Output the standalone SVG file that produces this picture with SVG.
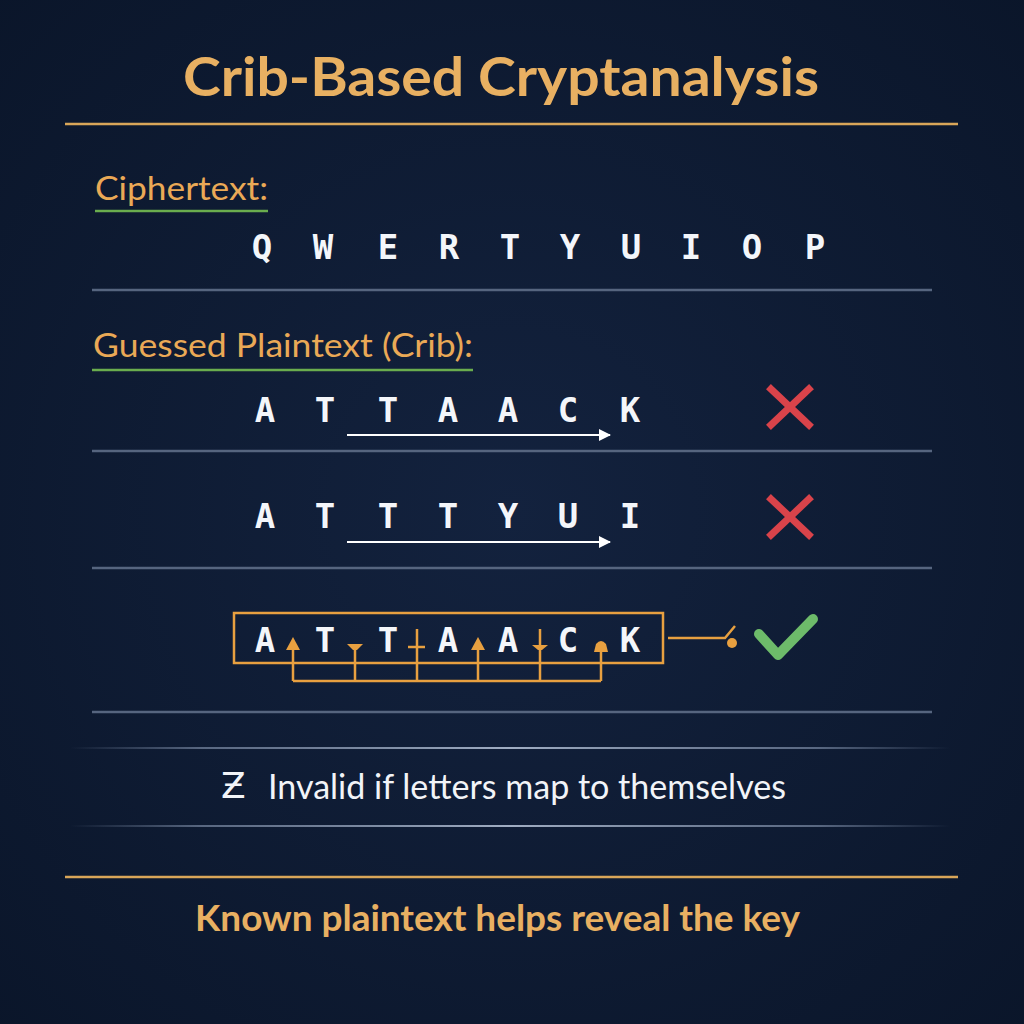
<svg xmlns="http://www.w3.org/2000/svg" width="1024" height="1024" viewBox="0 0 1024 1024">
<defs>
<radialGradient id="bg" cx="50%" cy="50%" r="75%">
<stop offset="0" stop-color="#13223e"/>
<stop offset="1" stop-color="#0a1529"/>
</radialGradient>
<linearGradient id="fade" gradientUnits="userSpaceOnUse" x1="70" y1="0" x2="950" y2="0">
<stop offset="0" stop-color="#8a9ab5" stop-opacity="0"/>
<stop offset="0.15" stop-color="#8a9ab5" stop-opacity="0.6"/>
<stop offset="0.5" stop-color="#b0bdd2" stop-opacity="0.9"/>
<stop offset="0.85" stop-color="#8a9ab5" stop-opacity="0.6"/>
<stop offset="1" stop-color="#8a9ab5" stop-opacity="0"/>
</linearGradient>
<marker id="ah" viewBox="0 0 12 12" refX="11" refY="6" markerWidth="12" markerHeight="12" markerUnits="userSpaceOnUse" orient="auto">
<path d="M0,0 L12,6 L0,12 Z" fill="#ffffff"/>
</marker>
<style>
.title{font-family:Lato,"Open Sans",sans-serif;font-weight:700;fill:#e8b062;}
.label{font-family:Lato,"Open Sans",sans-serif;font-size:33px;fill:#eaa956;}
.mono{font-family:"DejaVu Sans Mono","Liberation Mono",monospace;font-size:34px;font-weight:700;fill:#f4f6fa;text-anchor:middle;}
.note{font-family:Lato,"Open Sans",sans-serif;font-size:35px;fill:#f2f4f8;}
.gold{stroke:#d9a659;stroke-width:2.5;}
.green{stroke:#6aad4e;stroke-width:2.5;}
.div{stroke:#56657f;stroke-width:2.5;}
.fdiv{stroke:url(#fade);stroke-width:2;}
.arrow{stroke:#ffffff;stroke-width:2.2;fill:none;}
.xm{stroke:#d9434a;stroke-width:7;stroke-linecap:square;}
.or{stroke:#e8a040;stroke-width:2.5;fill:none;}
.orf{fill:#e8a040;}
</style>
</defs>
<rect width="1024" height="1024" fill="url(#bg)"/>

<g id="title">
<text class="title" x="501" y="96" font-size="54" text-anchor="middle" textLength="636" lengthAdjust="spacingAndGlyphs">Crib-Based Cryptanalysis</text>
<line class="gold" x1="65" y1="124" x2="958" y2="124"/>
</g>

<g id="ciphertext">
<text class="label" x="95" y="200" textLength="173" lengthAdjust="spacingAndGlyphs">Ciphertext:</text>
<line class="green" x1="95" y1="211" x2="268" y2="211"/>
<text class="mono" x="262 323 388 449 510 570 631 691 752 815" y="259">QWERTYUIOP</text>
<line class="div" x1="92" y1="290" x2="932" y2="290"/>
</g>

<g id="crib-label">
<text class="label" x="93" y="357" textLength="380" lengthAdjust="spacingAndGlyphs">Guessed Plaintext (Crib):</text>
<line class="green" x1="92" y1="370" x2="473" y2="370"/>
</g>

<g id="attempt1">
<text class="mono" x="265 325 388 448 508 568 630" y="422">ATTAACK</text>
<line class="xm" x1="771" y1="389" x2="809" y2="425"/>
<line class="xm" x1="809" y1="389" x2="771" y2="425"/>
<line class="div" x1="92" y1="451" x2="932" y2="451"/>
</g>

<g id="attempt2">
<text class="mono" x="265 325 388 448 508 568 630" y="528">ATTTYUI</text>
<line class="xm" x1="771" y1="499" x2="809" y2="535"/>
<line class="xm" x1="809" y1="499" x2="771" y2="535"/>
<line class="div" x1="92" y1="568" x2="932" y2="568"/>
</g>

<g id="attempt3">
<rect class="or" x="234" y="613" width="429" height="50" stroke-width="3"/>
<text class="mono" x="265 325 388 448 508 568 630" y="652">ATTAACK</text>
<path class="orf" d="M286,650 L293,637 L300,650 Z"/>
<path class="orf" d="M347,644 L363,644 L357,650 L353,650 Z"/>
<line class="or" x1="408" y1="647" x2="425" y2="647"/>
<path class="orf" d="M471,650 L478,637 L485,650 Z"/>
<path class="orf" d="M532,645 L548,645 L542,650 L538,650 Z"/>
<path class="orf" d="M594,652 L596,644 Q601,638 606,644 L608,652 Z"/>
<path class="or" d="M293,650 V681 M355,650 V681 M417,629 V681 M478,650 V681 M540,629 V681 M601,652 V681 M293,681 H601"/>
<path class="or" d="M668,638 H725 L735,626"/>
<circle class="orf" cx="732" cy="643" r="5"/>
<path d="M759,634 L778,655 L813,619" fill="none" stroke="#6dbb6a" stroke-width="10" stroke-linecap="round" stroke-linejoin="round"/>
<line class="div" x1="92" y1="712" x2="932" y2="712"/>
</g>

<g id="connectors">
<line class="arrow" x1="347" y1="435" x2="610" y2="435" marker-end="url(#ah)"/>
<line class="arrow" x1="347" y1="542" x2="610" y2="542" marker-end="url(#ah)"/>
</g>

<g id="note">
<line class="fdiv" x1="70" y1="748" x2="950" y2="748"/>
<text x="221" y="798" font-size="36" fill="#f2f4f8" font-family="'DejaVu Sans',sans-serif">Ƶ</text>
<text class="note" x="268" y="799" textLength="518" lengthAdjust="spacingAndGlyphs">Invalid if letters map to themselves</text>
<line class="fdiv" x1="70" y1="826" x2="950" y2="826"/>
</g>

<g id="footer">
<line class="gold" x1="65" y1="877" x2="958" y2="877"/>
<text class="title" x="195" y="931" font-size="36" textLength="605" lengthAdjust="spacingAndGlyphs">Known plaintext helps reveal the key</text>
</g>
</svg>
